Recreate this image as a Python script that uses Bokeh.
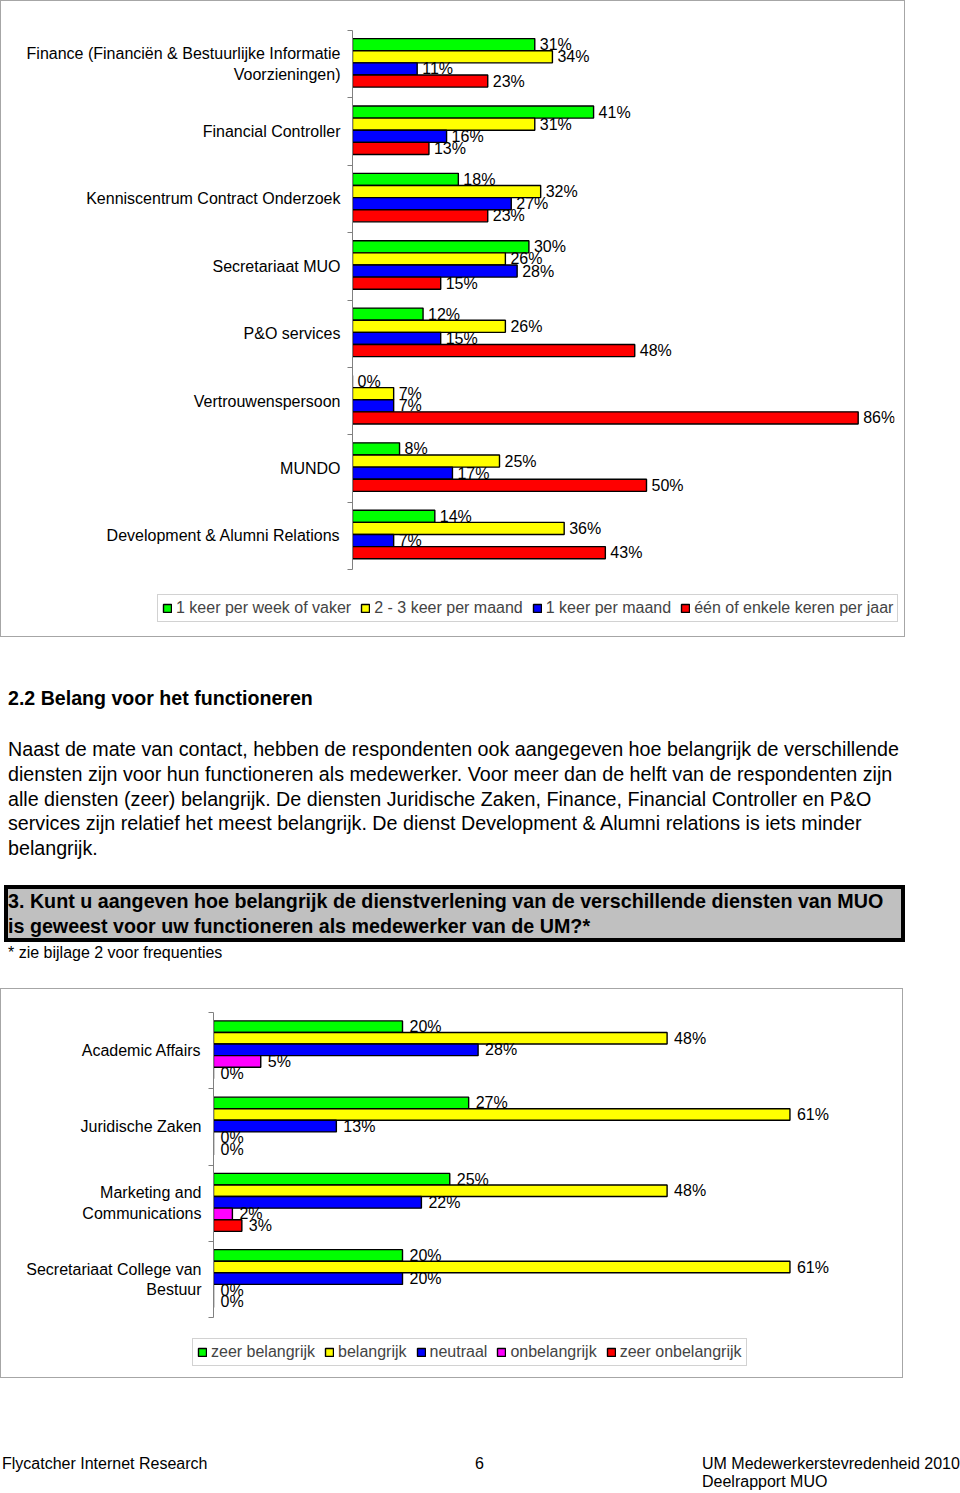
from bokeh.plotting import figure
from bokeh.models import Range1d, FixedTicker, Legend, LegendItem, Div, ColumnDataSource
from bokeh.layouts import column, row
from bokeh.embed import file_html
from bokeh.resources import INLINE
from bokeh.core.properties import value

FONT = "Liberation Sans"

# ---------------- data: chart 1 (contact frequency) ----------------
cats1 = [
    "Finance (Financiën & Bestuurlijke Informatie\nVoorzieningen)",
    "Financial Controller",
    "Kenniscentrum Contract Onderzoek",
    "Secretariaat MUO",
    "P&O services",
    "Vertrouwenspersoon",
    "MUNDO",
    "Development & Alumni Relations",
]
series1 = ["1 keer per week of vaker", "2 - 3 keer per maand", "1 keer per maand",
           "één of enkele keren per jaar"]
week_of_vaker = [31, 41, 18, 30, 12, 0, 8, 14]
keer_2_3_maand = [34, 31, 32, 26, 26, 7, 25, 36]
keer_1_maand = [11, 16, 27, 28, 15, 7, 17, 7]
keren_per_jaar = [23, 13, 23, 15, 48, 86, 50, 43]
colors1 = ["#00FF00", "#FFFF00", "#0000FF", "#FF0000"]

# ---------------- data: chart 2 (importance) ----------------
cats2 = [
    "Academic Affairs",
    "Juridische Zaken",
    "Marketing and\nCommunications",
    "Secretariaat College van\nBestuur",
]
series2 = ["zeer belangrijk", "belangrijk", "neutraal", "onbelangrijk", "zeer onbelangrijk"]
zeer_belangrijk = [20, 27, 25, 20]
belangrijk = [48, 61, 48, 61]
neutraal = [28, 13, 22, 20]
onbelangrijk = [5, 0, 2, 0]
zeer_onbelangrijk = [0, 0, 3, 0]
colors2 = ["#00FF00", "#FFFF00", "#0000FF", "#FF00FF", "#FF0000"]

BOX = {"border": "1px solid #a6a6a6"}


def make_legend(items, loc):
    return Legend(items=items, orientation="horizontal", location=loc,
                  label_text_font=FONT, label_text_font_size="16px", label_height=17,
                  glyph_width=10, glyph_height=10, label_standoff=4, spacing=9, padding=4,
                  margin=0, border_line_color="#a6a6a6", border_line_width=1,
                  background_fill_color="white", background_fill_alpha=1.0,
                  inactive_fill_alpha=0.0)


def make_chart(cats, names, values, colors, width, height, mb_left, mb_top, mb_bottom,
               mb_right, xmax, bar_h, center, lab_off, leg_h, leg_loc):
    n = len(cats)
    k = len(names)
    p = figure(width=width, height=height, x_range=Range1d(0, xmax), y_range=Range1d(n, 0),
               x_axis_location=None, toolbar_location=None, output_backend="svg",
               min_border_left=mb_left, min_border_top=mb_top, min_border_bottom=mb_bottom,
               min_border_right=mb_right)
    p.outline_line_color = None
    p.grid.visible = False
    p.background_fill_color = "white"
    p.border_fill_color = "white"

    # legend strip: its own small plot, so the legend can span the whole chart width
    lg = figure(width=width, height=leg_h, x_range=Range1d(0, 1), y_range=Range1d(0, 1),
                x_axis_location=None, y_axis_location=None, toolbar_location=None,
                output_backend="svg", min_border=0)
    lg.outline_line_color = None
    lg.grid.visible = False
    lg.border_fill_color = "white"

    items = []
    srcs = []
    for j in range(k):
        ys = [i + center + (j - (k - 1) / 2) * bar_h for i in range(n)]
        src = ColumnDataSource(dict(y=ys, v=values[j], t=[f"{v}%" for v in values[j]]))
        p.hbar(y="y", left=0, right="v", height=bar_h, source=src,
               fill_color=colors[j], line_color="black", line_width=1.4)
        r = lg.hbar(y="y", left=0, right="v", height=bar_h, source=src,
                    fill_color=colors[j], line_color="black", line_width=1.4,
                    visible=False)
        items.append(LegendItem(label=names[j], renderers=[r]))
        srcs.append(src)
    for src in srcs:
        p.text(x="v", y="y", text="t", source=src, x_offset=lab_off, y_offset=0,
               text_font=value(FONT), text_font_size="16px", text_baseline="middle",
               text_align="left", text_color="black")

    ax = p.yaxis[0]
    centers = [i + 0.5 for i in range(n)]
    ax.ticker = FixedTicker(ticks=centers, minor_ticks=list(range(n + 1)))
    ax.major_label_overrides = {c: lab for c, lab in zip(centers, cats)}
    ax.major_tick_out = 0
    ax.major_tick_in = 0
    ax.minor_tick_out = 5
    ax.minor_tick_in = 0
    ax.minor_tick_line_color = "#808080"
    ax.axis_line_color = "#808080"
    ax.major_label_standoff = 7
    ax.major_label_text_font = FONT
    ax.major_label_text_font_size = "16px"
    ax.major_label_text_color = "black"

    lg.add_layout(make_legend(items, leg_loc))
    return column(p, row(lg, margin=0), spacing=0, margin=0, styles=BOX)


chart1 = make_chart(cats1, series1,
                    [week_of_vaker, keer_2_3_maand, keer_1_maand, keren_per_jaar],
                    colors1, 903, 579, 351, 29, 11, 10, 542 / 5.88, 0.18, 0.48, 5,
                    56, (156, 14))
chart2 = make_chart(cats2, series2,
                    [zeer_belangrijk, belangrijk, neutraal, onbelangrijk, zeer_onbelangrijk],
                    colors2, 901, 341, 212, 23, 13, 10, 679 / 9.45, 0.152, 0.49, 7,
                    47, (191, 11))

base = f"position:absolute;font-family:'{FONT}';color:#000;white-space:nowrap;margin:0;box-sizing:border-box;"
text_html = f"""
<div style="position:relative;width:960px;height:351px;">
  <div style="{base}left:8px;top:50px;font-size:19.6px;font-weight:bold;line-height:22px;">2.2 Belang voor het functioneren</div>
  <div style="{base}left:8px;top:100px;font-size:19.7px;line-height:24.75px;">Naast de mate van contact, hebben de respondenten ook aangegeven hoe belangrijk de verschillende<br>diensten zijn voor hun functioneren als medewerker. Voor meer dan de helft van de respondenten zijn<br>alle diensten (zeer) belangrijk. De diensten Juridische Zaken, Finance, Financial Controller en P&amp;O<br>services zijn relatief het meest belangrijk. De dienst Development &amp; Alumni relations is iets minder<br>belangrijk.</div>
  <div style="{base}left:4px;top:248px;width:901px;height:57px;border:4px solid #000;background:#c0c0c0;font-size:19.7px;font-weight:bold;line-height:24.5px;padding-left:0px;">3. Kunt u aangeven hoe belangrijk de dienstverlening van de verschillende diensten van MUO<br>is geweest voor uw functioneren als medewerker van de UM?*</div>
  <div style="{base}left:8px;top:307px;font-size:16px;line-height:18px;">* zie bijlage 2 voor frequenties</div>
</div>
"""
div_text = Div(text=text_html, width=960, height=351, margin=0)

foot_html = f"""
<div style="position:relative;width:960px;height:113px;">
  <div style="{base}left:2px;top:77px;font-size:16px;line-height:18px;">Flycatcher Internet Research</div>
  <div style="{base}left:475px;top:77px;font-size:16px;line-height:18px;">6</div>
  <div style="{base}left:702px;top:77px;font-size:16px;line-height:18px;">UM Medewerkerstevredenheid 2010</div>
  <div style="{base}left:702px;top:95px;font-size:16px;line-height:18px;">Deelrapport MUO</div>
</div>
"""
div_foot = Div(text=foot_html, width=960, height=113, margin=0)

layout = column(chart1, div_text, chart2, div_foot, spacing=0, margin=0)

open("out.html", "w").write(file_html(layout, INLINE))
